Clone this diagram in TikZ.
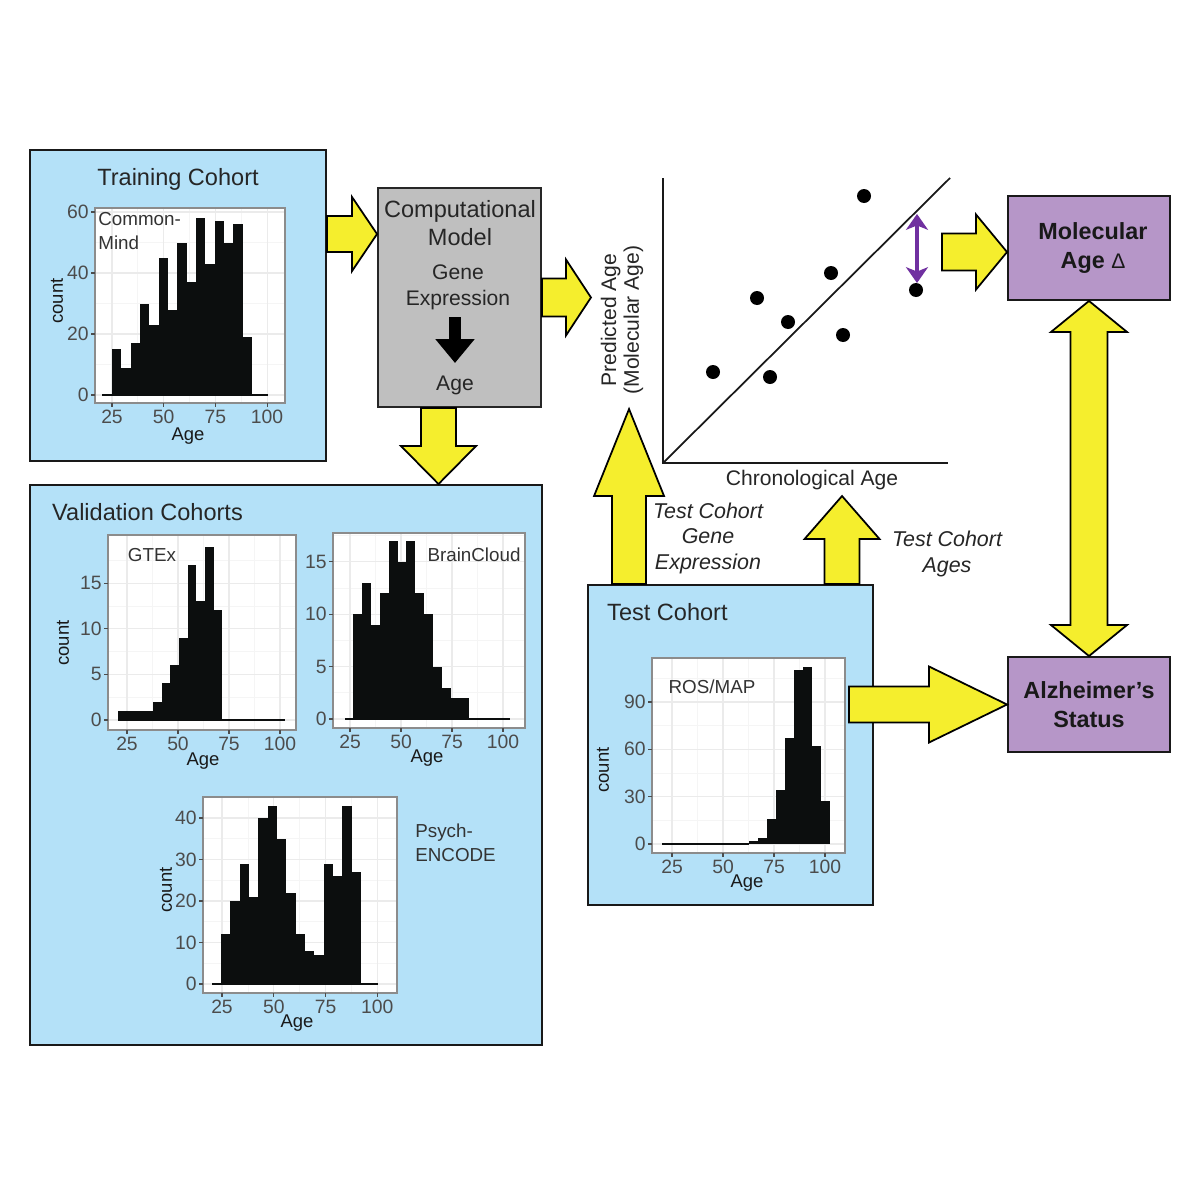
\documentclass[tikz,border=0pt]{standalone}
\usepackage{fontspec}
\setmainfont{Liberation Sans}
\usetikzlibrary{calc, fit, arrows.meta}

\definecolor{cohortblue}{RGB}{180,225,248}
\definecolor{modelgray}{RGB}{191,191,191}
\definecolor{outcomepurple}{RGB}{182,150,200}
\definecolor{arrowyellow}{RGB}{245,238,45}
\definecolor{barblack}{RGB}{12,14,14}
\definecolor{deltapurple}{RGB}{112,48,160}

\tikzset{
  cohort/.style={draw=black!90, line width=1.1pt, fill=cohortblue, inner sep=0pt},
  model/.style={draw=black!85, line width=1.1pt, fill=modelgray, inner sep=0pt},
  outcome/.style={draw=black!90, line width=1.1pt, fill=outcomepurple, inner sep=0pt},
  yarrow/.style={draw=black, line width=1pt, fill=arrowyellow, line join=miter},
  boxtitle/.style={font=\fontsize{13.4}{16}\selectfont, text=black!85},
  modeltitle/.style={font=\fontsize{13.4}{15.9}\selectfont, text=black!85, inner sep=0pt},
  modeltext/.style={font=\fontsize{12}{14.7}\selectfont, text=black!85, inner sep=0pt},
  modelarrow/.style={line width=6.8pt, black, -{Triangle[width=21.5pt, length=13.6pt]}},
  outcometext/.style={font=\bfseries\fontsize{13.3}{16.4}\selectfont, text=black!90, align=center},
  plotlabel/.style={font=\fontsize{12}{13}\selectfont, text=black!85, inner sep=0pt},
  flowlabel/.style={font=\itshape\fontsize{12.2}{14.5}\selectfont, text=black!85, inner sep=0pt},
  plotaxis/.style={line width=1.2pt, black!90},
  deltaarrow/.style={line width=2.2pt, deltapurple, {Stealth[length=9pt, width=12.5pt, inset=2.5pt]}-{Stealth[length=9pt, width=12.5pt, inset=2.5pt]}},
  gridmajor/.style={black!8, line width=0.6pt},
  gridminor/.style={black!4, line width=0.4pt},
  panelframe/.style={draw=black!45, line width=1pt},
  tickmark/.style={black!70, line width=0.6pt},
  ticklabel/.style={font=\fontsize{11}{13}\selectfont, text=black!70, inner sep=0pt},
  axistitle/.style={font=\fontsize{10.5}{12}\selectfont, text=black!90, inner sep=0pt},
  paneltext/.style={font=\fontsize{10.7}{13.6}\selectfont, text=black!80, inner sep=0pt},
  zeroline/.style={barblack, line width=1.6pt}
}

% panel name, x of age 25, px per year, y of count 0, px per count
\newcommand{\setpanel}[5]{\def\pn{#1}\def\pa{#2}\def\pk{#3}\def\pc{#4}\def\ps{#5}}

% left, top, right, bottom, count step, number of steps
\newcommand{\histgrid}[6]{%
  \fill[white] (#1,#2) rectangle (#3,#4);
  \begin{scope}
    \clip (#1,#2) rectangle (#3,#4);
    \foreach \a in {12.5,37.5,62.5,87.5,112.5}
      \draw[gridminor] ({\pa+(\a-25)*\pk},#2) -- ({\pa+(\a-25)*\pk},#4);
    \foreach \n in {0,...,#6}
      \draw[gridminor] (#1,{\pc-(\n+0.5)*#5*\ps}) -- (#3,{\pc-(\n+0.5)*#5*\ps});
    \foreach \a in {25,50,75,100}
      \draw[gridmajor] ({\pa+(\a-25)*\pk},#2) -- ({\pa+(\a-25)*\pk},#4);
    \foreach \n in {0,...,#6}
      \draw[gridmajor] (#1,{\pc-\n*#5*\ps}) -- (#3,{\pc-\n*#5*\ps});
  \end{scope}
  \draw[panelframe] (#1,#2) rectangle (#3,#4);
  \foreach \n in {0,...,#6} {
    \pgfmathtruncatemacro\lab{\n*#5}
    \draw[tickmark] (#1,{\pc-\n*#5*\ps}) -- ++(-4,0);
    \node[ticklabel, anchor=east] (\pn-y\n) at ({#1-6},{\pc-\n*#5*\ps}) {\lab};
  }
  \foreach \a in {25,50,75,100} {
    \draw[tickmark] ({\pa+(\a-25)*\pk},#4) -- ++(0,4);
    \node[ticklabel, anchor=north] (\pn-x\a) at ({\pa+(\a-25)*\pk},{#4+7}) {\a};
  }
}

% left x of first bin, bin width, counts
\newcommand{\histbars}[3]{%
  \foreach \c [count=\i from 0] in {#3}
    \fill[barblack] ({#1+\i*#2},\pc) rectangle ({#1+(\i+1)*#2},{\pc-\c*\ps});
}

% tail, tip, shaft half width, head half width, head length
\newcommand{\blockarrow}[5]{%
  \coordinate (#2-base) at ($(#2)!#5*0.02cm!(#1)$);
  \draw[yarrow] ($(#1)!#3*0.02cm!90:(#2)$) -- ($(#2-base)!#3*0.02cm!90:(#2)$)
    -- ($(#2-base)!#4*0.02cm!90:(#2)$) -- (#2)
    -- ($(#2-base)!#4*0.02cm!-90:(#2)$) -- ($(#2-base)!#3*0.02cm!-90:(#2)$)
    -- ($(#1)!#3*0.02cm!-90:(#2)$) -- cycle;
}

% tip, tip, shaft half width, head half width, head length
\newcommand{\doubleblock}[5]{%
  \coordinate (#1-base) at ($(#1)!#5*0.02cm!(#2)$);
  \coordinate (#2-base) at ($(#2)!#5*0.02cm!(#1)$);
  \draw[yarrow] (#1) -- ($(#1-base)!#4*0.02cm!90:(#2)$) -- ($(#1-base)!#3*0.02cm!90:(#2)$)
    -- ($(#2-base)!#3*0.02cm!-90:(#1)$) -- ($(#2-base)!#4*0.02cm!-90:(#1)$) -- (#2)
    -- ($(#2-base)!#4*0.02cm!90:(#1)$) -- ($(#2-base)!#3*0.02cm!90:(#1)$)
    -- ($(#1-base)!#3*0.02cm!-90:(#2)$) -- ($(#1-base)!#4*0.02cm!-90:(#2)$) -- cycle;
}

\begin{document}
\begin{tikzpicture}[x=0.02cm, y=-0.02cm]
\fill[white] (0,0) rectangle (1200,1200);
\useasboundingbox (0,0) rectangle (1200,1200);

% boxes
\node[cohort, fit={(30,150) (326,461)}] (train) {};
\node[cohort, fit={(30,485) (542,1045)}] (valid) {};
\node[cohort, fit={(588,585) (873,905)}] (test) {};
\node[model, fit={(378,188) (541,407)}] (comp) {};
\node[outcome, fit={(1008,196) (1170,300)}] (mol) {};
\node[outcome, fit={(1008,657) (1170,752)}] (alz) {};

\node[boxtitle] (train-title) at (178,179) {Training Cohort};
\node[boxtitle, anchor=west] (valid-title) at (46,512) {Validation Cohorts};
\node[boxtitle, anchor=west] (test-title) at (601,612) {Test Cohort};

\node[modeltitle, align=center] (comp-title) at (460,223) {Computational\\Model};
\node[modeltext, align=center] (gene) at (458,287) {Gene\\Expression};
\node[modeltext] (age-out) at (455,385) {Age};
\draw[modelarrow] (455,317) -- (455,363);

\node[outcometext] (mol-text) at ($(mol.center)+(4,0)$) {Molecular\\Age {\mdseries\fontsize{12}{14}\selectfont Δ}};
\node[outcometext] (alz-text) at (alz.center) {Alzheimer’s\\Status};

% age plot
\coordinate (orig) at (663,463);
\draw[plotaxis] (663,178) -- (orig) -- (948,463);
\draw[plotaxis, line width=1pt] (orig) -- (950,178);
\foreach \p in {(713,372), (757,298), (770,377), (788,322), (831,273), (843,335), (864,196), (916,290)}
  \fill[black] \p circle[radius=7];
\draw[deltaarrow] (917,214) -- (917,283);
\node[plotlabel] (chrono) at (812,480) {Chronological Age};
\node[plotlabel, rotate=90, align=center] (pred) at (622,320) {Predicted Age\\(Molecular Age)};
\node[flowlabel, align=center] (gene-lab) at (708,538) {Test Cohort\\Gene\\Expression};
\node[flowlabel, align=center] (ages-lab) at (947,554) {Test Cohort\\Ages};

% CommonMind
\setpanel{cm}{112}{2.067}{395}{3.05}
\histgrid{95}{208}{285}{403}{20}{3}
\draw[zeroline] (102,\pc) -- (268,\pc);
\histbars{112}{9.33}{15,9,17,30,23,45,28,50,37,58,43,57,50,56,19}
\node[paneltext, anchor=north west, align=left] (cm-name) at (98,212) {Common-\\Mind};
\node[axistitle] (cm-age) at (188,436) {Age};
\node[axistitle, rotate=90] (cm-count) at (57,301) {count};

% GTEx
\setpanel{gt}{127}{2.04}{720}{9.13}
\histgrid{108}{535}{296}{730}{5}{3}
\draw[zeroline] (118,\pc) -- (285,\pc);
\histbars{118}{8.7}{1,1,1,1,2,4,6,9,17,13,19,12}
\node[paneltext] (gt-name) at (152,555) {GTEx};
\node[axistitle] (gt-age) at (203,761) {Age};
\node[axistitle, rotate=90] (gt-count) at (63,643) {count};

% BrainCloud
\setpanel{bc}{350}{2.04}{719}{10.47}
\histgrid{333}{533}{525}{728}{5}{3}
\draw[zeroline] (345,\pc) -- (510,\pc);
\histbars{353}{8.9}{10,13,9,12,17,15,17,12,10,5,3,2,2}
\node[paneltext] (bc-name) at (474,555) {BrainCloud};
\node[axistitle] (bc-age) at (427,758) {Age};

% PsychENCODE
\setpanel{pe}{222}{2.07}{984}{4.15}
\histgrid{203}{797}{397}{993}{10}{4}
\draw[zeroline] (212,\pc) -- (378,\pc);
\histbars{221}{9.33}{12,20,29,21,40,43,35,22,12,8,7,29,26,43,27}
\node[paneltext, anchor=west, align=left] (pe-name) at (415,843) {Psych-\\ENCODE};
\node[axistitle] (pe-age) at (297,1023) {Age};
\node[axistitle, rotate=90] (pe-count) at (166,890) {count};

% ROS/MAP
\setpanel{rm}{672}{2.04}{844}{1.578}
\histgrid{652}{658}{845}{853}{30}{3}
\draw[zeroline] (662,\pc) -- (749,\pc);
\histbars{749}{9}{2,4,16,34,67,110,112,62,27}
\node[paneltext] (rm-name) at (712,687) {ROS/MAP};
\node[axistitle] (rm-age) at (747,883) {Age};
\node[axistitle, rotate=90] (rm-count) at (603,770) {count};

% yellow arrows
\coordinate (trainout) at ($(train.north east)+(0,85)$);
\coordinate (compin) at (comp.west |- trainout);
\blockarrow{trainout}{compin}{18}{37}{25}
\coordinate (compout) at (comp.east);
\coordinate (plotin) at ($(comp.east)+(49,0)$);
\blockarrow{compout}{plotin}{19}{38}{25}
\coordinate (compdown) at ($(comp.south)+(-21,0)$);
\coordinate (validin) at (compdown |- valid.north);
\blockarrow{compdown}{validin}{17.5}{37.5}{38}
\coordinate (testgene) at ($(test.north west)+(42,0)$);
\coordinate (plotgene) at ($(testgene)+(0,-175)$);
\blockarrow{testgene}{plotgene}{17}{35}{87}
\coordinate (testage) at ($(test.north west)+(255,0)$);
\coordinate (plotage) at ($(testage)+(0,-88)$);
\blockarrow{testage}{plotage}{17.5}{37.5}{43}
\coordinate (molin) at ($(mol.north west)+(0,57)$);
\coordinate (deltaout) at ($(molin)+(-65,0)$);
\blockarrow{deltaout}{molin}{18.5}{37.5}{31}
\coordinate (moldown) at (mol.south);
\coordinate (alzup) at (alz.north);
\doubleblock{moldown}{alzup}{18.5}{38}{31}
\coordinate (alzin) at (alz.west);
\coordinate (testout) at ($(alzin)+(-158,0)$);
\blockarrow{testout}{alzin}{18}{38}{78}
\end{tikzpicture}
\end{document}
